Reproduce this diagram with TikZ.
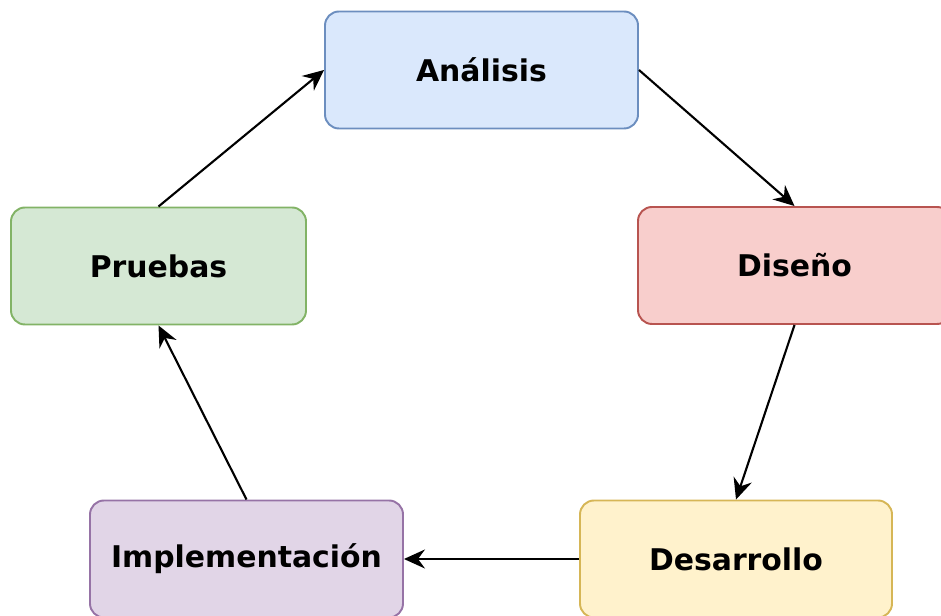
\documentclass[tikz,border=0pt]{standalone}
\usepackage{fontspec}
\setmainfont{DejaVu Sans}
\usetikzlibrary{arrows.meta}

\definecolor{azulF}{HTML}{DAE8FC}\definecolor{azulD}{HTML}{6C8EBF}
\definecolor{rojoF}{HTML}{F8CECC}\definecolor{rojoD}{HTML}{B85450}
\definecolor{amaF}{HTML}{FFF2CC}\definecolor{amaD}{HTML}{D6B656}
\definecolor{moraF}{HTML}{E1D5E7}\definecolor{moraD}{HTML}{9673A6}
\definecolor{verdeF}{HTML}{D5E8D4}\definecolor{verdeD}{HTML}{82B366}

\begin{document}
\begin{tikzpicture}[
    fase/.style={draw, rounded corners=1.4mm, line width=0.55pt, minimum width=3.13cm,
        minimum height=1.17cm, font=\fontsize{8.5}{10}\selectfont\bfseries},
    flecha/.style={-{Stealth[length=2.1mm, width=1.9mm, inset=0.7mm]}, line width=0.6pt}]
    \useasboundingbox (0,0) rectangle (9.41,-6.16);
    \node[fase, fill=azulF, draw=azulD] (analisis) at (4.815,-0.70) {Análisis};
    \node[fase, fill=rojoF, draw=rojoD] (diseno) at (7.945,-2.655) {Diseño};
    \node[fase, fill=amaF, draw=amaD, minimum width=3.12cm] (desarrollo) at (7.36,-5.59) {Desarrollo};
    \node[fase, fill=moraF, draw=moraD] (implementacion) at (2.465,-5.59) {Implementación};
    \node[fase, fill=verdeF, draw=verdeD, minimum width=2.95cm] (pruebas) at (1.585,-2.66) {Pruebas};
    \draw[flecha] (analisis.east) -- (diseno.north);
    \draw[flecha] (diseno.south) -- (desarrollo.north);
    \draw[flecha] (desarrollo.west) -- (implementacion.east);
    \draw[flecha] (implementacion.north) -- (pruebas.south);
    \draw[flecha] (pruebas.north) -- (analisis.west);
\end{tikzpicture}
\end{document}
